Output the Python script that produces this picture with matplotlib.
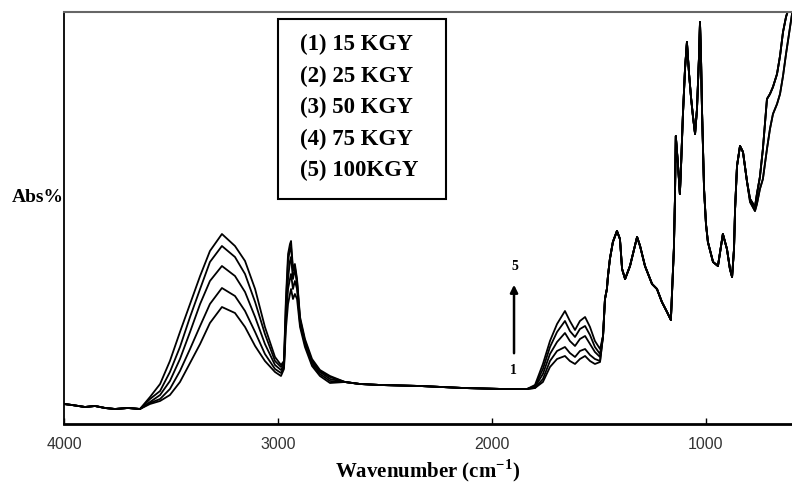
import matplotlib.pyplot as plt
from matplotlib.patches import Rectangle

# FTIR spectra of irradiated samples
# (absorbance in arbitrary units, the original has no y scale)

plt.rcParams["mathtext.fontset"] = "custom"
plt.rcParams["mathtext.rm"] = "Liberation Serif"
plt.rcParams["mathtext.bf"] = "Liberation Serif:bold"

# 4000-3600 baseline, shared by all doses
base_wn = [4000, 3963, 3902, 3855, 3808, 3762, 3701, 3645]
base_abs = [5.0, 4.75, 4.25, 4.5, 4.0, 3.75, 4.0, 3.75]

# O-H stretching band, changes with dose
oh_wn = [3598, 3551, 3505, 3458, 3411, 3364, 3318, 3262, 3201, 3154, 3107, 3061, 3014, 2986]
oh_1 = [5.0, 5.75, 7.25, 10.5, 15.25, 20.0, 25.25, 29.25, 27.75, 24.25, 19.5, 15.75, 13.0, 12.0]
oh_2 = [5.25, 6.25, 8.75, 13.25, 18.75, 24.5, 30.0, 34.0, 32.0, 28.25, 23.0, 17.5, 13.75, 12.75]
oh_3 = [5.5, 7.25, 10.75, 16.25, 23.0, 30.0, 35.75, 39.5, 37.0, 33.0, 26.75, 20.0, 14.75, 13.5]
oh_4 = [6.25, 8.25, 13.0, 19.25, 26.75, 33.75, 40.5, 44.5, 41.75, 37.5, 30.5, 22.5, 15.75, 14.25]
oh_5 = [6.75, 10.0, 15.75, 23.0, 30.0, 37.0, 43.25, 47.5, 44.5, 40.75, 33.75, 24.25, 16.75, 14.75]

# C-H stretching peaks
ch_wn = [2972, 2963, 2953, 2944, 2939, 2930, 2921, 2911, 2897, 2874, 2841, 2804, 2757]
ch_1 = [13.75, 23.75, 30.0, 32.5, 33.75, 31.25, 32.5, 31.25, 24.25, 19.25, 14.5, 12.0, 10.25]
ch_2 = [14.25, 26.25, 33.75, 36.25, 37.5, 33.75, 35.75, 33.75, 25.0, 20.0, 15.0, 12.5, 10.75]
ch_3 = [14.75, 27.5, 36.25, 40.75, 41.75, 36.25, 38.75, 35.0, 25.75, 20.5, 15.5, 13.0, 11.25]
ch_4 = [15.25, 30.0, 40.75, 43.75, 44.25, 38.25, 39.25, 35.75, 26.25, 20.75, 15.75, 13.25, 11.75]
ch_5 = [15.75, 31.25, 42.5, 45.0, 45.75, 38.75, 40.0, 36.25, 26.75, 21.25, 16.25, 13.5, 12.0]

# flat part between 2700 and 1850
flat_wn = [2687, 2617, 2523, 2336, 2135, 1949, 1855]
flat_abs = [10.5, 10.0, 9.75, 9.5, 9.0, 8.75, 8.75]

# 1800-1500 doublet, grows with dose
am_wn = [1836, 1799, 1762, 1729, 1696, 1659, 1636, 1612, 1589, 1565, 1542, 1519, 1495]
am_1 = [8.75, 9.0, 10.5, 14.25, 16.25, 17.0, 15.75, 15.0, 16.25, 17.0, 15.75, 15.0, 15.5]
am_2 = [8.75, 9.0, 11.25, 15.75, 18.25, 19.25, 17.75, 16.75, 18.25, 18.75, 17.25, 16.25, 15.75]
am_3 = [8.75, 9.25, 12.5, 17.5, 20.5, 22.75, 20.75, 19.5, 21.25, 22.0, 20.0, 18.0, 16.75]
am_4 = [8.75, 9.5, 13.75, 19.25, 23.0, 25.75, 23.25, 21.75, 23.75, 24.5, 22.25, 19.25, 17.5]
am_5 = [8.75, 9.75, 15.0, 20.75, 25.0, 28.25, 25.75, 23.5, 25.75, 26.75, 24.25, 20.75, 18.75]

# fingerprint region, the same for every dose
fp_wn = [1481, 1472, 1463, 1458, 1449, 1435, 1416, 1402, 1392, 1378, 1355, 1322, 1308,
         1285, 1252, 1229, 1206, 1182, 1164, 1150, 1145, 1141, 1131, 1122, 1117, 1108,
         1098, 1089, 1079, 1070, 1061, 1051, 1042, 1033, 1028, 1023, 1019, 1009, 1000,
         991, 967, 944, 921, 902, 888, 878, 869, 864, 855, 841, 827, 808]
fp_abs = [22.0, 31.25, 33.75, 37.0, 41.25, 45.5, 48.25, 46.25, 38.75, 36.25, 39.5, 46.75, 44.5,
          39.5, 35.0, 33.75, 30.5, 28.0, 26.0, 43.75, 56.25, 72.0, 65.0, 57.5, 63.75, 77.0,
          88.75, 95.5, 87.5, 81.75, 77.0, 72.5, 78.75, 91.25, 100.5, 91.25, 79.5, 58.75, 50.0,
          45.5, 40.5, 39.5, 47.5, 43.75, 38.75, 36.75, 43.75, 53.75, 64.5, 69.5, 68.0, 60.5]

# last part below 800, two slightly shifted groups of traces
tail_wn = [794, 771, 762, 748, 734, 715, 701, 687, 668, 654, 640, 626, 612, 598]
tail_a = [56.25, 54.25, 57.5, 61.75, 68.75, 81.25, 82.5, 84.25, 87.5, 92.0, 98.0, 101.75, 104.25, 105.0]
tail_b = [55.5, 53.25, 55.0, 58.75, 61.25, 68.75, 73.75, 77.5, 80.0, 82.5, 87.0, 92.5, 97.5, 102.5]

doses = ["15 KGY", "25 KGY", "50 KGY", "75 KGY", "100KGY"]
oh = [oh_1, oh_2, oh_3, oh_4, oh_5]
ch = [ch_1, ch_2, ch_3, ch_4, ch_5]
am = [am_1, am_2, am_3, am_4, am_5]
tails = [tail_b, tail_b, tail_a, tail_a, tail_a]

wn = base_wn + oh_wn + ch_wn + flat_wn + am_wn + fp_wn + tail_wn

fig = plt.figure(figsize=(7.92, 4.89), dpi=100)
ax = fig.add_axes([0.0808, 0.1309, 0.9192, 0.8425])

for i in range(len(doses)):
    absb = base_abs + oh[i] + ch[i] + flat_abs + am[i] + fp_abs + tails[i]
    ax.plot(wn, absb, color="black", lw=1.3)

ax.set_xlim(4000, 598)
ax.set_ylim(0, 103)

ax.set_xticks([4000, 3000, 2000, 1000])
ax.set_yticks([])
ax.tick_params(axis="x", direction="in", length=4, width=1, pad=9,
               labelsize=11.5, labelcolor="#333333")
for lab in ax.get_xticklabels():
    lab.set_family("Liberation Sans")

ax.spines["right"].set_visible(False)
ax.spines["top"].set_color("#666666")
ax.spines["top"].set_linewidth(1.5)
ax.spines["left"].set_linewidth(1.3)
ax.spines["bottom"].set_linewidth(2)

fig.text(0.54, 0.038, "Wavenumber (cm$^{\\mathbf{-1}}$)", family="Liberation Serif",
         fontweight="bold", fontsize=15, ha="center", va="center")
fig.text(0.015, 0.597, "Abs%", family="Liberation Serif", fontweight="bold",
         fontsize=14, ha="left", va="center")

# arrow showing the increase with dose
ax.annotate("", xy=(1897, 35.5), xytext=(1897, 17),
            arrowprops=dict(arrowstyle="-|>", color="black", lw=1.8, mutation_scale=11))
ax.text(1893, 39.5, "5", family="Liberation Serif", fontweight="bold",
        fontsize=10, ha="center", va="center")
ax.text(1900, 13.5, "1", family="Liberation Serif", fontweight="bold",
        fontsize=10, ha="center", va="center")

# legend box with the doses
fig.patches.append(Rectangle((0.351, 0.591), 0.212, 0.368, transform=fig.transFigure,
                             fill=False, edgecolor="black", lw=1.5))
for i, d in enumerate(doses):
    fig.text(0.379, 0.909 - i * 0.0645, f"({i + 1}) {d}", family="Liberation Serif",
             fontweight="bold", fontsize=16.5, ha="left", va="center")

fig.savefig("out.png", dpi=100)
